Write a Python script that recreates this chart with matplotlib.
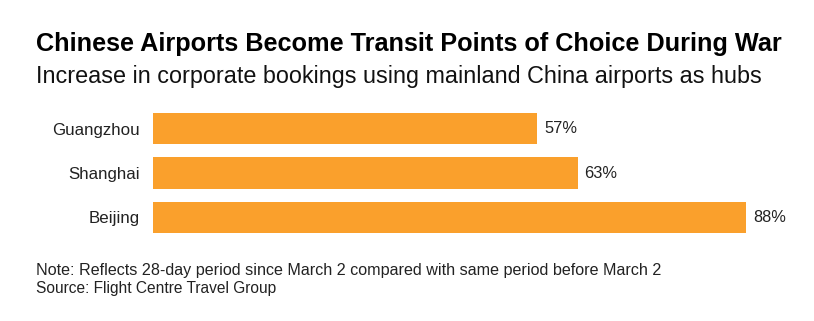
import matplotlib
matplotlib.use("Agg")
import matplotlib.pyplot as plt

plt.rcParams['font.family'] = ['Liberation Sans', 'DejaVu Sans']

cities = ["Guangzhou", "Shanghai", "Beijing"]
increase = [57, 63, 88]
value_labels = ["57%", "63%", "88%"]

title = "Chinese Airports Become Transit Points of Choice During War"
subtitle = "Increase in corporate bookings using mainland China airports as hubs"
note = "Note: Reflects 28-day period since March 2 compared with same period before March 2"
source = "Source: Flight Centre Travel Group"

W, H = 814, 321
fig = plt.figure(figsize=(W / 100, H / 100), dpi=100)
fig.patch.set_facecolor("white")

ax = fig.add_axes([153 / W, 1 - 233 / H, 593 / W, 120 / H])
ypos = list(range(len(cities)))
ax.barh(ypos, increase, height=0.7, color="#FAA02C", edgecolor="none")
ax.set_xlim(0, max(increase))
ax.set_yticks(ypos)
ax.set_yticklabels(cities, fontsize=12.2, color="#222222")
ax.tick_params(axis="y", length=0, pad=9.5)
ax.set_xticks([])
for s in ax.spines.values():
    s.set_visible(False)
for y, v, lab in zip(ypos, increase, value_labels):
    ax.annotate(lab, (v, y), xytext=(5, 0), textcoords="offset points",
                va="center", ha="left", fontsize=11.8, color="#222222")
ax.set_ylim(len(cities) - 1 + 0.35, -0.35)

fig.text(36 / W, 1 - 44 / H, title, fontsize=18.2, fontweight="bold", color="black", va="center", ha="left")
fig.text(36 / W, 1 - 76 / H, subtitle, fontsize=16.8, color="#111111", va="center", ha="left")
fig.text(36 / W, 1 - 270 / H, note, fontsize=11.6, color="#222222", va="center", ha="left")
fig.text(36 / W, 1 - 289 / H, source, fontsize=11.2, color="#222222", va="center", ha="left")

fig.savefig("out.png", dpi=100, facecolor="white")
